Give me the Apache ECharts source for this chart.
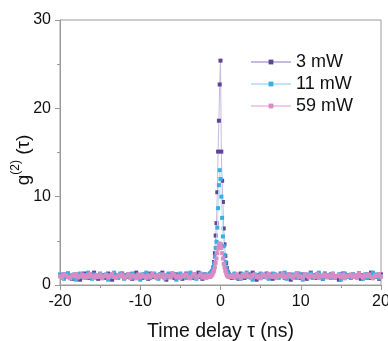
<!DOCTYPE html>
<html>
<head>
<meta charset="utf-8">
<script src="https://cdn.jsdelivr.net/npm/echarts@6/dist/echarts.min.js"></script>
<style>html,body{margin:0;padding:0;background:#fff;}#c{width:388px;height:341px;}</style>
</head>
<body>
<div id="c"></div>
<script>
// Time delay grid (ns)
var tLeft = [-20,-19.75,-19.5,-19.25,-19,-18.75,-18.5,-18.25,-18,-17.75,-17.5,-17.25,-17,-16.75,-16.5,
  -16.25,-16,-15.75,-15.5,-15.25,-15,-14.75,-14.5,-14.25,-14,-13.75,-13.5,-13.25,-13,-12.75,
  -12.5,-12.25,-12,-11.75,-11.5,-11.25,-11,-10.75,-10.5,-10.25,-10,-9.75,-9.5,-9.25,-9,
  -8.75,-8.5,-8.25,-8,-7.75,-7.5,-7.25,-7,-6.75,-6.5,-6.25,-6,-5.75,-5.5,-5.25,
  -5,-4.75,-4.5,-4.25,-4,-3.75,-3.5,-3.25,-3,-2.75,-2.5,-2.25,-2,-1.75,-1.5];
var tMid = [-1.4,-1.3,-1.2,-1.1,-1.0,-0.9,-0.8,-0.7,-0.6,-0.5,-0.4,-0.3,-0.2,-0.1,0,0.1,0.2,0.3,0.4,0.5,0.6,0.7,0.8,0.9,1.0,1.1,1.2,1.3,1.4];
var tRight = [1.5,1.75,2,2.25,2.5,2.75,3,3.25,3.5,3.75,4,4.25,4.5,4.75,5,
  5.25,5.5,5.75,6,6.25,6.5,6.75,7,7.25,7.5,7.75,8,8.25,8.5,8.75,
  9,9.25,9.5,9.75,10,10.25,10.5,10.75,11,11.25,11.5,11.75,12,12.25,12.5,
  12.75,13,13.25,13.5,13.75,14,14.25,14.5,14.75,15,15.25,15.5,15.75,16,16.25,
  16.5,16.75,17,17.25,17.5,17.75,18,18.25,18.5,18.75,19,19.25,19.5,19.75,20];

// 3 mW
var p3Left = [1.0,0.8,1.2,0.9,1.3,1.1,0.7,1.0,1.2,0.9,0.6,1.1,1.3,1.0,0.8,
  1.1,0.9,1.4,1.0,0.7,1.2,0.9,1.1,0.8,1.3,1.0,0.6,1.2,1.1,0.9,
  1.0,1.3,0.8,1.1,0.9,1.2,0.7,1.0,1.4,0.9,1.1,0.8,1.2,1.0,0.7,
  1.3,0.9,1.1,1.0,0.8,1.2,1.4,0.9,0.6,1.1,1.0,1.3,0.8,1.2,0.9,
  1.1,0.7,1.0,1.3,0.9,1.2,0.8,1.1,1.0,1.4,0.9,0.7,1.2,1.0,1.1];
var p3Mid = [1.1,1.3,1.2,1.5,1.6,2.0,2.6,3.6,5.6,7.0,10.5,15.1,18.6,22.7,25.4,15.1,11.8,9.4,6.4,4.6,3.3,2.5,1.9,1.5,1.3,1.1,0.9,1.0,0.8];
var p3Right = [0.9,1.2,1.0,0.7,1.3,1.1,0.8,1.0,1.2,0.9,1.4,1.0,0.6,1.1,1.2,
  0.9,1.0,1.3,0.8,1.1,0.7,1.2,1.0,0.9,1.3,1.1,0.8,1.0,1.2,0.6,
  1.1,0.9,1.3,1.0,0.8,1.2,1.1,0.7,1.0,1.4,0.9,1.1,0.8,1.2,1.0,
  0.7,1.3,1.0,0.9,1.2,1.1,0.8,1.0,0.6,1.2,1.3,0.9,1.1,1.0,0.8,
  1.2,1.0,0.9,1.3,0.7,1.1,1.0,1.2,0.8,1.4,1.0,0.9,1.1,0.7,1.2];

// 11 mW
var p11Left = [1.2,0.9,0.7,1.1,1.3,1.0,0.8,1.2,0.6,1.0,1.3,0.9,1.1,0.8,1.4,
  1.0,0.7,1.2,1.1,0.9,1.3,0.8,1.0,1.2,0.6,1.1,0.9,1.4,1.0,0.8,
  1.3,1.1,0.7,1.0,1.2,0.9,1.3,0.8,1.1,1.0,0.6,1.2,0.9,1.4,1.0,
  0.8,1.1,1.3,0.9,0.7,1.2,1.0,1.1,0.8,1.3,0.9,1.0,1.2,0.6,1.1,
  1.3,0.9,1.0,0.8,1.2,1.4,0.9,1.1,0.7,1.0,1.3,0.8,1.1,1.2,0.9];
var p11Mid = [1.0,1.2,1.3,1.4,1.6,1.9,2.4,3.2,4.2,4.9,6.5,8.7,11.3,13.0,12.0,10.0,7.6,5.5,4.4,3.4,2.6,2.0,1.6,1.3,1.2,1.0,1.1,0.9,1.0];
var p11Right = [1.1,1.3,0.8,1.0,0.7,1.2,1.0,1.4,0.9,1.1,0.6,1.2,1.0,0.8,1.3,
  0.9,1.1,1.2,0.7,1.0,1.3,0.9,1.1,0.8,1.2,1.0,1.4,0.7,1.1,0.9,
  1.2,1.0,0.8,1.3,1.1,0.6,1.0,1.2,0.9,1.3,0.8,1.1,1.0,1.4,0.9,
  0.7,1.2,1.0,1.1,0.8,1.3,0.9,1.0,1.2,0.6,1.1,1.3,0.9,1.0,0.8,
  1.2,1.1,0.9,1.3,1.0,0.7,1.2,0.8,1.1,1.0,1.4,0.9,1.2,0.8,1.0];

// 59 mW
var p59Left = [1.0,0.8,1.2,1.1,0.9,0.75,1.15,1.0,1.25,0.85,1.0,1.2,0.8,1.1,0.9,
  1.25,1.0,0.8,1.1,0.9,1.2,0.75,1.0,1.15,0.85,1.05,1.25,0.9,0.8,1.1,
  1.0,1.2,0.85,0.95,1.25,0.8,1.1,1.0,0.75,1.2,0.9,1.15,1.0,0.8,1.1,
  0.9,1.25,1.0,0.8,1.15,0.95,1.2,0.75,1.05,1.0,0.85,1.25,1.1,0.9,1.0,
  0.8,1.15,1.0,1.2,0.9,0.75,1.1,1.25,0.85,1.0,1.2,0.9,1.05,0.8,1.1];
var p59Mid = [1.0,0.9,1.0,1.1,1.2,1.4,1.6,2.0,2.5,3.0,3.6,4.1,4.5,4.7,4.6,4.2,3.6,3.0,2.4,2.0,1.6,1.3,1.1,1.0,0.9,0.9,1.0,0.9,1.0];
var p59Right = [1.1,0.85,1.2,1.0,0.75,1.15,0.95,1.25,1.0,0.8,1.1,1.2,0.9,1.0,0.75,
  1.2,1.05,0.85,1.25,1.0,0.9,1.15,0.8,1.1,1.0,1.25,0.85,0.95,1.2,1.0,
  0.8,1.1,1.25,0.9,1.0,0.75,1.2,1.05,0.85,1.15,1.0,0.9,1.25,0.8,1.1,
  1.0,1.2,0.85,1.1,0.95,1.25,0.8,1.0,1.15,0.9,1.2,0.75,1.05,1.0,1.2,
  0.9,1.1,0.8,1.25,1.0,0.85,1.15,1.0,1.2,0.9,0.75,1.1,1.0,1.25,0.95];

var seriesNames = ['3 mW','11 mW','59 mW'];
var xTicks = [-20,-10,0,10,20];
var yTicks = [0,10,20,30];

function pairs(t, v){ var out=[]; for (var i=0;i<t.length;i++) out.push([t[i], v[i]]); return out; }
var tAll = tLeft.concat(tMid, tRight);
var d3 = pairs(tAll, p3Left.concat(p3Mid, p3Right));
var d11 = pairs(tAll, p11Left.concat(p11Mid, p11Right));
var d59 = pairs(tAll, p59Left.concat(p59Mid, p59Right));

var colors = ['#5e4399','#39aee2','#d98bc4'];
var lineColors = ['#c4bae2','#c0e4f5','#f2cce6'];

function mk(name, data, i){
  return {
    name: name, type: 'line', data: data,
    symbol: 'rect', symbolSize: 4, showSymbol: true, showAllSymbol: true,
    itemStyle: {color: colors[i]},
    lineStyle: {color: lineColors[i], width: 1},
    emphasis: {disabled: true},
    animation: false,
    z: 2 + i
  };
}

var chart = echarts.init(document.getElementById('c'), null, {renderer: 'canvas'});
var font = 'Liberation Sans, Arial, sans-serif';
chart.setOption({
  animation: false,
  grid: {left: 60, right: 7, top: 20, bottom: 56, show: true, borderColor: '#9a9a9a', borderWidth: 1,
    containLabel: false, outerBoundsMode: 'none'},
  legend: {
    orient: 'vertical', left: 245, top: 48, itemGap: 4,
    itemWidth: 40, itemHeight: 6,
    data: seriesNames,
    textStyle: {fontFamily: font, fontSize: 18, color: '#111'}
  },
  xAxis: {
    type: 'value', min: -20, max: 20, interval: 10,
    axisLine: {onZero: false, lineStyle: {color: '#9a9a9a', width: 1}},
    axisTick: {show: true, length: 5, lineStyle: {color: '#9a9a9a'}},
    minorTick: {show: true, splitNumber: 2, length: 3, lineStyle: {color: '#9a9a9a'}},
    splitLine: {show: false},
    axisLabel: {fontFamily: font, fontSize: 16, color: '#111', margin: 9,
      formatter: function(v){ return xTicks.indexOf(v) >= 0 ? String(v) : ''; }},
    name: 'Time delay \u03c4 (ns)', nameLocation: 'middle', nameGap: 37, nameMoveOverlap: false,
    nameTextStyle: {fontFamily: font, fontSize: 19.5, color: '#111'}
  },
  yAxis: {
    type: 'value', min: 0, max: 30, interval: 10,
    axisLine: {show: true, onZero: false, lineStyle: {color: '#9a9a9a', width: 1}},
    axisTick: {show: true, length: 5, lineStyle: {color: '#9a9a9a'}},
    minorTick: {show: true, splitNumber: 2, length: 3, lineStyle: {color: '#9a9a9a'}},
    splitLine: {show: false},
    axisLabel: {fontFamily: font, fontSize: 16, color: '#111', margin: 9,
      formatter: function(v){ return yTicks.indexOf(v) >= 0 ? String(v) : ''; }},
    name: '{g|g}{s|(2)}{g| (\u03c4)}', nameLocation: 'middle', nameGap: 27, nameRotate: 90,
    nameMoveOverlap: false,
    nameTextStyle: {
      fontFamily: font, fontSize: 19, color: '#111', padding: [0, 15, 0, 0],
      rich: {
        g: {fontFamily: font, fontSize: 19, color: '#111', verticalAlign: 'bottom', lineHeight: 23},
        s: {fontFamily: font, fontSize: 12, color: '#111', verticalAlign: 'top', lineHeight: 23}
      }
    }
  },
  series: [mk(seriesNames[0], d3, 0), mk(seriesNames[1], d11, 1), mk(seriesNames[2], d59, 2)]
});
</script>
</body>
</html>
